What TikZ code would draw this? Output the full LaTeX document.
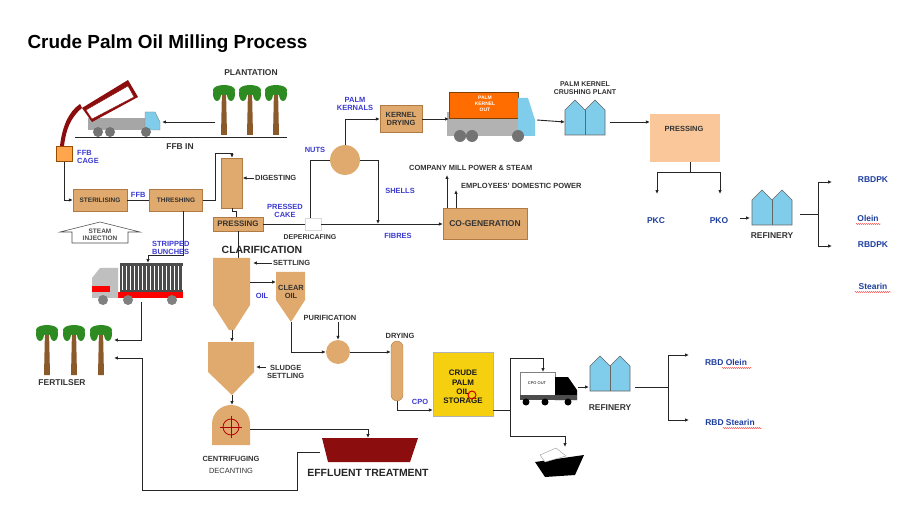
\documentclass[tikz,border=0pt]{standalone}
\usepackage{fontspec}
\setmainfont{Liberation Sans}
\usetikzlibrary{arrows.meta,decorations.pathmorphing,calc}
\definecolor{tan}{HTML}{E0A96D}
\definecolor{tanE}{HTML}{B07A45}
\definecolor{blu}{HTML}{3B3BD0}
\definecolor{dblu}{HTML}{1F3F9F}
\definecolor{sky}{HTML}{7FCDEB}
\definecolor{peach}{HTML}{F9C79A}
\definecolor{maroon}{HTML}{8B0D0D}
\definecolor{ylw}{HTML}{F5D010}
\definecolor{palmg}{HTML}{2E8B22}
\definecolor{trunk}{HTML}{8B5A2B}
\tikzset{
 x=1bp,y=-1bp,
 box/.style={draw=tanE,fill=tan,font=\bfseries\fontsize{7.5}{8.5}\selectfont,text=black!80,align=center,inner sep=1pt},
 lab/.style={font=\bfseries\fontsize{7.5}{8.5}\selectfont,text=black!80,align=center,inner sep=1pt},
 blab/.style={font=\bfseries\fontsize{7.5}{8.5}\selectfont,text=blu,align=center,inner sep=1pt},
 rlab/.style={font=\bfseries\fontsize{8.5}{9}\selectfont,text=dblu,inner sep=1pt},
 big/.style={font=\bfseries\fontsize{10.5}{11}\selectfont,text=black!85,inner sep=1pt},
 ln/.style={draw=black!85,line width=0.9pt},
 ar/.style={ln,-{Latex[length=4pt,width=3.5pt]}},
 tank/.style={fill=tan,draw=none},
 plant/.style={fill=sky,draw=black!60,line width=0.6pt},
}
\newcommand{\palm}[1]{%
 \fill[trunk] ($#1+(-2,0)$) -- ($#1+(2,0)$) -- ($#1+(3,45)$) -- ($#1+(-3,45)$) -- cycle;
 \fill[palmg] #1 ellipse (11 and 5);
 \fill[palmg] ($#1+(-7,4)$) ellipse (4 and 7);
 \fill[palmg] ($#1+(7,4)$) ellipse (4 and 7);
}
\begin{document}
\begin{tikzpicture}
\useasboundingbox[fill=white] (0,0) rectangle (914,506);
\node[anchor=west,font=\bfseries\fontsize{19}{20}\selectfont] (title) at (24,44) {Crude Palm Oil Milling Process};
% plantation
\node[lab,font=\bfseries\fontsize{8.5}{9}\selectfont] (plant) at (251,73) {PLANTATION};
\palm{(224,90)}\palm{(250,90)}\palm{(276,90)}
% tipper truck
\fill[black!35] (88,118) rectangle (150,130);
\fill[sky,draw=black!50] (145,112) -- (155,112) -- (160,122) -- (160,130) -- (145,130) -- cycle;
\foreach \w in {98,110,146} \fill[black!55] (\w,132) circle (5);
\fill[maroon] (82,108) -- (128,80) -- (138,97) -- (92,122) -- cycle;
\fill[white,draw=maroon] (86,110) -- (128,86) -- (134,97) -- (92,119) -- cycle;
\fill[maroon] (82,108) .. controls (70,118) and (66,130) .. (64,146) -- (60,146) .. controls (62,128) and (68,112) .. (80,104) -- cycle;
\node[fill=orange!70,draw=orange!60!black,minimum width=16pt,minimum height=15pt,inner sep=0pt] (cage) at (64,154) {};
\node[blab,anchor=west,align=left] (cagel) at (76,157) {FFB\\CAGE};
\draw[ln] (75,137) -- (287,137);
\node[lab,font=\bfseries\fontsize{8.5}{9}\selectfont] (ffbin) at (180,147) {FFB IN};
\coordinate (pl) at (215,122); \coordinate (tr) at (162,122);
\draw[ar] (pl) -- (tr);
% sterilising etc
\node[box,minimum width=54pt,minimum height=22pt,font=\bfseries\fontsize{6.5}{7}\selectfont] (ster) at (100,200) {STERILISING};
\node[box,minimum width=53pt,minimum height=22pt,font=\bfseries\fontsize{6.5}{7}\selectfont] (thr) at (176,200) {THRESHING};
\draw[ar] (cage.south) |- (ster.west);
\draw[ln] (ster) -- node[blab,above=1pt] {FFB} (thr);
\draw[black!70,fill=white,line width=0.6pt] (60,232) -- (100,222) -- (140,232) -- (128,232) -- (128,243) -- (72,243) -- (72,232) -- cycle;
\node[lab,font=\bfseries\fontsize{6.5}{7}\selectfont,text=black!70] (steam) at (100,235) {STEAM\\INJECTION};
% digesting / pressing
\node[box,minimum width=21pt,minimum height=50pt] (dig) at (232,183) {};
\node[lab,anchor=west] (digl) at (254,178) {DIGESTING};
\draw[ar] (digl.west) -- (dig.east |- digl.west);
\draw[ar] (thr.east) -- (215,200) -- (215,153) -- (232,153) -- (dig.north);
\node[box,minimum width=50pt,minimum height=14pt,font=\bfseries\fontsize{8}{8}\selectfont] (press) at (238,224) {PRESSING};
\draw[ln] (dig.south) -- (232,211) -- (236,211) -- (press.north -| 236,0);
\node[fill=white,draw=black!15,minimum width=16pt,minimum height=12pt,inner sep=0] (dep) at (313,224) {};
\node[lab,font=\bfseries\fontsize{7}{7}\selectfont] (depl) at (310,237) {DEPERICAFING};
\node[blab] (pcake) at (285,211) {PRESSED\\CAKE};
\draw[ln] (press.east) -- (dep.west);
\node[circle,fill=tan,minimum size=30pt,inner sep=0] (nut) at (345,160) {};
\node[blab] (nutsl) at (315,150) {NUTS};
\draw[ln] (dep.north -| 310,0) -- (310,160) -- (nut.west);
\node[box,minimum width=42pt,minimum height=27pt] (kd) at (401,119) {KERNEL\\DRYING};
\draw[ar] (nut.north) |- (kd.west);
\node[blab] (pkl) at (355,104) {PALM\\KERNALS};
\node[box,minimum width=84pt,minimum height=31pt,font=\bfseries\fontsize{8.5}{9}\selectfont] (cogen) at (485,224) {CO-GENERATION};
\draw[ar] (dep.east) -- (cogen.west);
\node[blab] (fib) at (398,236) {FIBRES};
\draw[ar] (nut.east) -- (378,160) -- (378,224);
\node[blab] (shl) at (400,191) {SHELLS};
\node[lab,anchor=west] (cmp) at (408,168) {COMPANY MILL POWER \& STEAM};
\node[lab,anchor=west] (emp) at (460,186) {EMPLOYEES' DOMESTIC POWER};
\draw[ar] (447,208) -- (447,175);
\draw[ar] (456,208) -- (456,190);
% kernel truck
\fill[black!30] (447,112) rectangle (520,136);
\fill[orange!85!red,draw=orange!50!black] (449,92) rectangle (518,118);
\fill[sky] (518,98) -- (528,98) -- (535,120) -- (535,136) -- (518,136) -- cycle;
\foreach \w in {460,472,518} \fill[black!55] (\w,136) circle (6);
\node[font=\bfseries\fontsize{5}{6}\selectfont,text=white,align=center] (pko) at (485,104) {PALM\\KERNEL\\OUT};
\draw[ar] (kd.east) -- (449,119);
% crushing plant
\def\plantshape#1{\filldraw[plant] ($#1+(0,10)$) -- ($#1+(10,0)$) -- ($#1+(20,10)$) -- ($#1+(30,0)$) -- ($#1+(40,10)$) -- ($#1+(40,35)$) -- ($#1+(0,35)$) -- cycle; \draw[black!60] ($#1+(20,10)$) -- ($#1+(20,35)$);}
\plantshape{(565,100)}
\coordinate (cp) at (565,122); \coordinate (cpe) at (610,122);
\draw[ar] (537,120) -- (cp);
\node[lab,font=\bfseries\fontsize{7}{8}\selectfont] (cpl) at (585,88) {PALM KERNEL\\CRUSHING PLANT};
\node[fill=peach,minimum width=70pt,minimum height=48pt,inner sep=0] (pp) at (685,138) {};
\node[lab,font=\bfseries\fontsize{7.5}{8}\selectfont] at (684,129) {PRESSING};
\draw[ar] (cpe) -- (pp.west |- cpe);
\coordinate (pj) at (690,172);
\draw[ln] (pp.south -| pj) -- (pj);
\node[rlab] (pkc) at (656,221) {PKC};
\node[rlab] (pko2) at (719,221) {PKO};
\draw[ar] (pj) -- (657,172) -- (657,194);
\draw[ar] (pj) -- (720,172) -- (720,194);
\plantshape{(752,190)}
\node[lab,font=\bfseries\fontsize{8.5}{9}\selectfont] (ref1) at (772,236) {REFINERY};
\draw[ar] (740,218) -- (750,218);
\draw[ln] (800,214) -- (818,214);
\draw[ar] (818,214) -- (818,182) -- (832,182);
\draw[ar] (818,214) -- (818,246) -- (832,246);
\node[rlab] (r1) at (873,180) {RBDPK};
\node[rlab] (r2) at (868,218) {Olein};
\node[rlab] (r3) at (873,245) {RBDPK};
\node[rlab] (r4) at (873,286) {Stearin};
\draw[red!70,decorate,decoration={snake,amplitude=0.6pt,segment length=2pt}] (856,224) -- (881,224);
\draw[red!70,decorate,decoration={snake,amplitude=0.6pt,segment length=2pt}] (855,292) -- (891,292);
% stripped bunches truck
\draw[ar] (thr.south -| 183,0) -- (183,255) -- (148,255) -- (148,263);
\node[blab,align=left,anchor=west] (sbl) at (151,248) {STRIPPED\\BUNCHES};
\fill[black!70] (120,263) rectangle (183,293);
\foreach \i in {122,126,...,182} \draw[white,line width=0.6pt] (\i,266) -- (\i,290);
\fill[red] (110,292) rectangle (183,298);
\fill[black!25] (92,278) -- (100,268) -- (118,268) -- (118,298) -- (92,298) -- cycle;
\fill[red] (92,286) -- (110,286) -- (110,292) -- (92,292) -- cycle;
\foreach \w in {103,128,172} \fill[black!50] (\w,300) circle (5);
% fertiliser
\palm{(47,330)}\palm{(74,330)}\palm{(101,330)}
\node[lab,font=\bfseries\fontsize{8.5}{9}\selectfont] (fert) at (62,383) {FERTILSER};
\draw[ar] (141,302) -- (141,340) -- (114,340);
% clarification
\node[big] (clar) at (262,250) {CLARIFICATION};
\draw[ln] (press.south -| 238,0) -- (238,258);
\fill[tank] (213,258) -- (250,258) -- (250,305) -- (234,330) -- (229,330) -- (213,305) -- cycle;
\node[lab,anchor=west] (sett) at (272,263) {SETTLING};
\draw[ar] (sett.west) -- (253,263);
\fill[tank] (276,272) -- (305,272) -- (305,300) -- (291,322) -- (276,300) -- cycle;
\node[lab,font=\bfseries\fontsize{7.5}{8.5}\selectfont] (clo) at (291,292) {CLEAR\\OIL};
\draw[ar] (250,282) -- (276,282);
\node[blab] (oill) at (262,296) {OIL};
\node[circle,fill=tan,minimum size=24pt,inner sep=0] (pur) at (338,352) {};
\node[lab] (purl) at (330,318) {PURIFICATION};
\draw[ar] (purl.south -| pur) -- (pur.north);
\draw[ar] (291,322) -- (291,352) -- (pur.west);
\node[draw=tanE,fill=tan,rounded corners=6pt,minimum width=12pt,minimum height=60pt,inner sep=0] (dry) at (397,371) {};
\node[lab] (dryl) at (400,336) {DRYING};
\draw[ar] (pur.east) -- (dry.west |- pur.east);
\node[fill=ylw,draw=black!30,minimum width=60pt,minimum height=64pt,inner sep=0] (sto) at (463,384) {};
\node[lab,font=\bfseries\fontsize{8}{9.5}\selectfont,text=black!90] at (463,387) {CRUDE\\PALM\\OIL\\STORAGE};
\draw[red!80!black,line width=1pt] (472,395) circle (4);
\draw[ar] (dry.south) -- (397,410) -- (sto.west |- 0,410);
\node[blab] (cpol) at (420,402) {CPO};
\draw[ln] (493,410) -- (510,410);
% cpo truck
\fill[white,draw=black!50] (520,372) rectangle (555,395);
\node[font=\fontsize{4}{5}\selectfont] (cpot) at (537,383) {CPO OUT};
\fill[black] (555,377) -- (568,377) -- (577,390) -- (577,400) -- (555,400) -- cycle;
\fill[black!70] (520,395) rectangle (577,400);
\foreach \w in {526,545,568} \fill[black] (\w,402) circle (3.5);
\draw[ar] (510,410) -- (510,358) -- (543,358) -- (543,372);
\plantshape{(590,356)}
\node[lab,font=\bfseries\fontsize{8.5}{9}\selectfont] (ref2) at (610,408) {REFINERY};
\draw[ar] (578,387) -- (589,387);
\draw[ln] (635,387) -- (668,387);
\draw[ar] (668,387) -- (668,355) -- (689,355);
\draw[ar] (668,387) -- (668,420) -- (689,420);
\node[rlab] (ro) at (726,362) {RBD Olein};
\node[rlab] (rs) at (730,422) {RBD Stearin};
\draw[red!70,decorate,decoration={snake,amplitude=0.6pt,segment length=2pt}] (722,368) -- (752,368);
\draw[red!70,decorate,decoration={snake,amplitude=0.6pt,segment length=2pt}] (723,428) -- (762,428);
% ship
\draw[ar] (510,410) -- (510,436) -- (565,436) -- (565,447);
\fill[black] (535,462) -- (584,455) -- (575,475) -- (545,477) -- cycle;
\fill[white,draw=black!40] (540,455) -- (556,448) -- (566,456) -- (545,462) -- cycle;
% sludge
\draw[ar] (232,330) -- (232,342);
\fill[tank] (208,342) -- (254,342) -- (254,372) -- (232,395) -- (208,372) -- cycle;
\node[lab,anchor=west] (sll) at (266,372) {SLUDGE\\SETTLING};
\draw[ar] (266,367) -- (256,367);
\draw[ar] (232,395) -- (232,405);
\fill[tank] (212,445) -- (212,424) arc (180:360:19) -- (250,445) -- cycle;
\node[circle,draw=red!70!black,line width=0.8pt,minimum size=16pt,inner sep=0] (cent) at (231,427) {};
\draw[red!70!black,line width=0.8pt] (220,427) -- (242,427) (231,416) -- (231,438);
\node[lab,font=\bfseries\fontsize{7.5}{8}\selectfont] (cenl) at (231,459) {CENTRIFUGING};
\node[lab,font=\fontsize{7.5}{8}\selectfont] (decl) at (231,471) {DECANTING};
% effluent
\fill[maroon] (322,438) -- (418,438) -- (410,462) -- (328,462) -- cycle;
\node[big] (efl) at (368,473) {EFFLUENT TREATMENT};
\draw[ar] (250,429) -- (368,429) -- (368,438);
\draw[ar] (320,452) -- (297,452) -- (297,490) -- (142,490) -- (142,358) -- (114,358);
\end{tikzpicture}
\end{document}
